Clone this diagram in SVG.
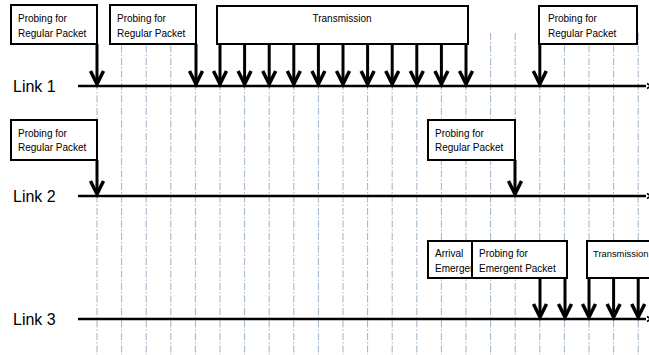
<svg xmlns="http://www.w3.org/2000/svg" width="649" height="355" viewBox="0 0 649 355">
<style>
.grid{stroke:#9db3c8;stroke-width:1;stroke-dasharray:7 2 1.5 2;fill:none}
.link{stroke:#000;stroke-width:2.5;fill:none}
.end{stroke:#000;stroke-width:1.5;fill:none}
.box{fill:#fff;stroke:#000;stroke-width:2}
.stem{stroke:#000;stroke-width:3;fill:none}
.head{stroke:#000;stroke-width:3.5;fill:none;stroke-linejoin:miter;stroke-linecap:butt}
.lbl{font-family:"Liberation Sans",Arial,sans-serif;font-size:16px;fill:#000}
.t{font-family:"Liberation Sans",Arial,sans-serif;font-size:10px;fill:#000}
</style>
<defs>
<g id="ah"><polyline class="head" points="-6.5,-15 0,-2 6.5,-15"/></g>
</defs>
<rect width="649" height="355" fill="#fff"/>
<g id="grid">
<line class="grid" x1="97" y1="33" x2="97" y2="355"/>
<line class="grid" x1="121.6" y1="33" x2="121.6" y2="355"/>
<line class="grid" x1="146.2" y1="33" x2="146.2" y2="355"/>
<line class="grid" x1="170.8" y1="33" x2="170.8" y2="355"/>
<line class="grid" x1="195.4" y1="33" x2="195.4" y2="355"/>
<line class="grid" x1="220" y1="33" x2="220" y2="355"/>
<line class="grid" x1="244.6" y1="33" x2="244.6" y2="355"/>
<line class="grid" x1="269.2" y1="33" x2="269.2" y2="355"/>
<line class="grid" x1="293.8" y1="33" x2="293.8" y2="355"/>
<line class="grid" x1="318.4" y1="33" x2="318.4" y2="355"/>
<line class="grid" x1="343" y1="33" x2="343" y2="355"/>
<line class="grid" x1="367.6" y1="33" x2="367.6" y2="355"/>
<line class="grid" x1="392.2" y1="33" x2="392.2" y2="355"/>
<line class="grid" x1="416.8" y1="33" x2="416.8" y2="355"/>
<line class="grid" x1="441.4" y1="33" x2="441.4" y2="355"/>
<line class="grid" x1="466" y1="33" x2="466" y2="355"/>
<line class="grid" x1="490.6" y1="33" x2="490.6" y2="355"/>
<line class="grid" x1="515.2" y1="33" x2="515.2" y2="355"/>
<line class="grid" x1="539.8" y1="33" x2="539.8" y2="355"/>
<line class="grid" x1="564.4" y1="33" x2="564.4" y2="355"/>
<line class="grid" x1="589" y1="33" x2="589" y2="355"/>
<line class="grid" x1="613.6" y1="33" x2="613.6" y2="355"/>
<line class="grid" x1="638.2" y1="33" x2="638.2" y2="355"/>
</g>
<g id="links">
<g id="link1"><text class="lbl" x="13" y="92">Link 1</text><line class="link" x1="78" y1="86" x2="646" y2="86"/><polyline class="end" points="647,83.5 651,86 647,88.5"/></g>
<g id="link2"><text class="lbl" x="13" y="202">Link 2</text><line class="link" x1="78" y1="196" x2="646" y2="196"/><polyline class="end" points="647,193.5 651,196 647,198.5"/></g>
<g id="link3"><text class="lbl" x="13" y="325">Link 3</text><line class="link" x1="78" y1="319" x2="646" y2="319"/><polyline class="end" points="647,316.5 651,319 647,321.5"/></g>
</g>
<g id="connectors">
<line class="stem" x1="97" y1="44" x2="97" y2="82"/><use href="#ah" x="97" y="86"/>
<line class="stem" x1="196" y1="44" x2="196" y2="82"/><use href="#ah" x="196" y="86"/>
<line class="stem" x1="220" y1="44" x2="220" y2="82"/><use href="#ah" x="220" y="86"/>
<line class="stem" x1="244.6" y1="44" x2="244.6" y2="82"/><use href="#ah" x="244.6" y="86"/>
<line class="stem" x1="269.2" y1="44" x2="269.2" y2="82"/><use href="#ah" x="269.2" y="86"/>
<line class="stem" x1="293.8" y1="44" x2="293.8" y2="82"/><use href="#ah" x="293.8" y="86"/>
<line class="stem" x1="318.4" y1="44" x2="318.4" y2="82"/><use href="#ah" x="318.4" y="86"/>
<line class="stem" x1="343" y1="44" x2="343" y2="82"/><use href="#ah" x="343" y="86"/>
<line class="stem" x1="367.6" y1="44" x2="367.6" y2="82"/><use href="#ah" x="367.6" y="86"/>
<line class="stem" x1="392.2" y1="44" x2="392.2" y2="82"/><use href="#ah" x="392.2" y="86"/>
<line class="stem" x1="416.8" y1="44" x2="416.8" y2="82"/><use href="#ah" x="416.8" y="86"/>
<line class="stem" x1="441.4" y1="44" x2="441.4" y2="82"/><use href="#ah" x="441.4" y="86"/>
<line class="stem" x1="466" y1="44" x2="466" y2="82"/><use href="#ah" x="466" y="86"/>
<line class="stem" x1="539.8" y1="44" x2="539.8" y2="82"/><use href="#ah" x="539.8" y="86"/>
<line class="stem" x1="97" y1="160" x2="97" y2="192"/><use href="#ah" x="97" y="196"/>
<line class="stem" x1="515" y1="160" x2="515" y2="192"/><use href="#ah" x="515" y="196"/>
<line class="stem" x1="540" y1="278" x2="540" y2="315"/><use href="#ah" x="540" y="319"/>
<line class="stem" x1="565" y1="278" x2="565" y2="315"/><use href="#ah" x="565" y="319"/>
<line class="stem" x1="589" y1="278" x2="589" y2="315"/><use href="#ah" x="589" y="319"/>
<line class="stem" x1="613.6" y1="278" x2="613.6" y2="315"/><use href="#ah" x="613.6" y="319"/>
<line class="stem" x1="638.2" y1="278" x2="638.2" y2="315"/><use href="#ah" x="638.2" y="319"/>
</g>
<g id="probe1a"><rect class="box" x="11" y="5" width="86" height="39"/><text class="t" x="18" y="22">Probing for</text><text class="t" x="18" y="37">Regular Packet</text></g>
<g id="probe1b"><rect class="box" x="110" y="5" width="86" height="39"/><text class="t" x="117" y="22">Probing for</text><text class="t" x="117" y="37">Regular Packet</text></g>
<g id="trans1"><rect class="box" x="217" y="6" width="251" height="38"/><text class="t" x="342" y="22" text-anchor="middle">Transmission</text></g>
<g id="probe1c"><rect class="box" x="539" y="6" width="98" height="38"/><text class="t" x="548" y="22">Probing for</text><text class="t" x="548" y="37">Regular Packet</text></g>
<g id="probe2a"><rect class="box" x="11" y="120" width="86" height="40"/><text class="t" x="18" y="137">Probing for</text><text class="t" x="18" y="151">Regular Packet</text></g>
<g id="probe2b"><rect class="box" x="428" y="120" width="87" height="40"/><text class="t" x="435" y="137">Probing for</text><text class="t" x="435" y="151">Regular Packet</text></g>
<g id="arrival3"><rect class="box" x="428" y="241" width="44" height="37"/><text class="t" x="435" y="257">Arrival</text><text class="t" x="435" y="272">Emergent</text></g>
<g id="probe3"><rect class="box" x="472" y="241" width="95" height="37"/><text class="t" x="479" y="257">Probing for</text><text class="t" x="479" y="272">Emergent Packet</text></g>
<g id="trans3"><rect class="box" x="587" y="241" width="80" height="37"/><text class="t" x="593" y="257" style="font-size:9.4px">Transmission</text></g>
</svg>
